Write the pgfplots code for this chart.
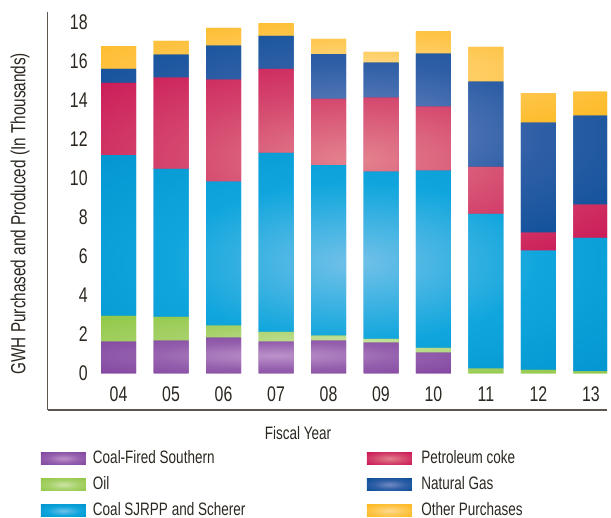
\documentclass[border=0pt]{standalone}
\usepackage{pgfplots}
\pgfplotsset{compat=1.18}
\usepackage{pgfplotstable}
\usepackage{fontspec}
\setmainfont{Liberation Sans}[FakeStretch=0.75]
\definecolor{cPur}{HTML}{7D3F9B}
\definecolor{cPurM}{HTML}{9560AE}
\definecolor{cPurL}{HTML}{BC92C9}
\definecolor{cGrn}{HTML}{8CC63E}
\definecolor{cGrnM}{HTML}{A6D169}
\definecolor{cGrnL}{HTML}{CBE4A6}
\definecolor{cBlu}{HTML}{0091CD}
\definecolor{cBluM}{HTML}{10A6DD}
\definecolor{cBluL}{HTML}{72C1E8}
\definecolor{cRed}{HTML}{C7094F}
\definecolor{cRedM}{HTML}{D4456D}
\definecolor{cRedL}{HTML}{E3838F}
\definecolor{cNav}{HTML}{004A95}
\definecolor{cNavM}{HTML}{2F5FA6}
\definecolor{cNavL}{HTML}{728AC4}
\definecolor{cYel}{HTML}{FDB515}
\definecolor{cYelM}{HTML}{FEC64D}
\definecolor{cYelL}{HTML}{FFDB8F}
\definecolor{txt}{HTML}{2B2720}
\definecolor{axc}{HTML}{5E574D}
\pgfdeclareradialshading{gPur}{\pgfpoint{0bp}{0bp}}{color(0bp)=(cPurL); color(18bp)=(cPurM); color(40bp)=(cPur); color(50bp)=(cPur)}
\pgfdeclareradialshading{gGrn}{\pgfpoint{0bp}{0bp}}{color(0bp)=(cGrnL); color(18bp)=(cGrnM); color(40bp)=(cGrn); color(50bp)=(cGrn)}
\pgfdeclareradialshading{gBlu}{\pgfpoint{0bp}{0bp}}{color(0bp)=(cBluL); color(18bp)=(cBluM); color(40bp)=(cBlu); color(50bp)=(cBlu)}
\pgfdeclareradialshading{gRed}{\pgfpoint{0bp}{0bp}}{color(0bp)=(cRedL); color(18bp)=(cRedM); color(40bp)=(cRed); color(50bp)=(cRed)}
\pgfdeclareradialshading{gNav}{\pgfpoint{0bp}{0bp}}{color(0bp)=(cNavL); color(18bp)=(cNavM); color(40bp)=(cNav); color(50bp)=(cNav)}
\pgfdeclareradialshading{gYel}{\pgfpoint{0bp}{0bp}}{color(0bp)=(cYelL); color(18bp)=(cYelM); color(40bp)=(cYel); color(50bp)=(cYel)}
\pgfplotstableread{
x  csouth oil  coal pet  ng   other
0  1.62   1.33 8.24 3.70 0.72 1.17
1  1.67   1.23 7.58 4.68 1.18 0.70
2  1.83   0.61 7.39 5.23 1.74 0.91
3  1.62   0.51 9.17 4.31 1.69 0.66
4  1.67   0.26 8.75 3.39 2.30 0.77
5  1.57   0.20 8.57 3.79 1.80 0.55
6  1.06   0.25 9.08 3.28 2.72 1.16
7  0      0.24 7.94 2.41 4.36 1.78
8  0      0.18 6.11 0.92 5.64 1.52
9  0      0.10 6.85 1.70 4.56 1.23
}\datatable
\begin{document}
\begin{tikzpicture}
\begin{axis}[
  name=ax,
  scale only axis,
  width=279.65pt, height=199.15pt,
  xmin=-1.349, xmax=9.305,
  ymin=-1.88, ymax=18.54,
  ybar stacked, bar width=17.5pt,
  axis lines*=left,
  x axis line style={line width=1pt, color=axc},
  y axis line style={line width=0.5pt, color=axc},
  xtick={0,...,9},
  xticklabels={04,05,06,07,08,09,10,11,12,13},
  ytick={0,2,...,18},
  major tick length=0pt,
  tick style={draw=none},
  /pgf/number format/assume math mode=true,
  ticklabel style={font=\fontsize{10.6}{12}\selectfont, text=txt},
  yticklabel style={anchor=east, inner sep=0pt, xshift=20.15pt},
  xticklabel style={anchor=center, inner sep=0pt, yshift=7.75pt},
  ylabel={GWH Purchased and Produced (In Thousands)},
  every axis y label/.style={at={(axis description cs:-0.0495,0.493)}, rotate=90, anchor=center, font=\fontsize{10.2}{12}\selectfont, text=txt},
  xlabel={Fiscal Year},
  every axis x label/.style={at={(axis description cs:0.4475,-0.0577)}, anchor=center, font=\fontsize{9}{11}\selectfont, text=txt},
  legend style={draw=none, fill=none, at={(axis description cs:-0.012,-0.1)}, anchor=north west, inner sep=0pt, outer sep=0pt, row sep=4.6pt, column sep=0pt, font=\fontsize{9}{11}\selectfont, text=txt, nodes={inner sep=0pt, text height=6.6pt, text depth=1.9pt}, cells={anchor=west}},
  legend columns=2,
  legend image code/.code={\path[#1] (0pt,-3.1pt) rectangle (22.5pt,3.1pt); \path (26pt,0pt);},
]
\addlegendimage{shading=gPur, draw=none}\addlegendentry{\makebox[137pt][l]{Coal-Fired Southern}}
\addlegendimage{shading=gRed, draw=none}\addlegendentry{\hspace*{1.2pt}Petroleum coke}
\addlegendimage{shading=gGrn, draw=none}\addlegendentry{\makebox[137pt][l]{Oil}}
\addlegendimage{shading=gNav, draw=none}\addlegendentry{\hspace*{1.2pt}Natural Gas}
\addlegendimage{shading=gBlu, draw=none}\addlegendentry{\makebox[137pt][l]{Coal SJRPP and Scherer}}
\addlegendimage{shading=gYel, draw=none}\addlegendentry{\hspace*{1.2pt}Other Purchases}
\addplot[fill=cPur, shading=gPur, draw=none] table[x=x, y=csouth] {\datatable};
\addplot[fill=cGrn, shading=gGrn, draw=none] table[x=x, y=oil] {\datatable};
\addplot[fill=cBlu, shading=gBlu, draw=none] table[x=x, y=coal] {\datatable};
\addplot[fill=cRed, shading=gRed, draw=none] table[x=x, y=pet] {\datatable};
\addplot[fill=cNav, shading=gNav, draw=none] table[x=x, y=ng] {\datatable};
\addplot[fill=cYel, shading=gYel, draw=none] table[x=x, y=other] {\datatable};
\end{axis}
\pgfresetboundingbox
\path ([shift={(-23.85pt,-54pt)}]ax.south west) rectangle ([shift={(2pt,5.85pt)}]ax.north east);
\end{tikzpicture}
\end{document}
